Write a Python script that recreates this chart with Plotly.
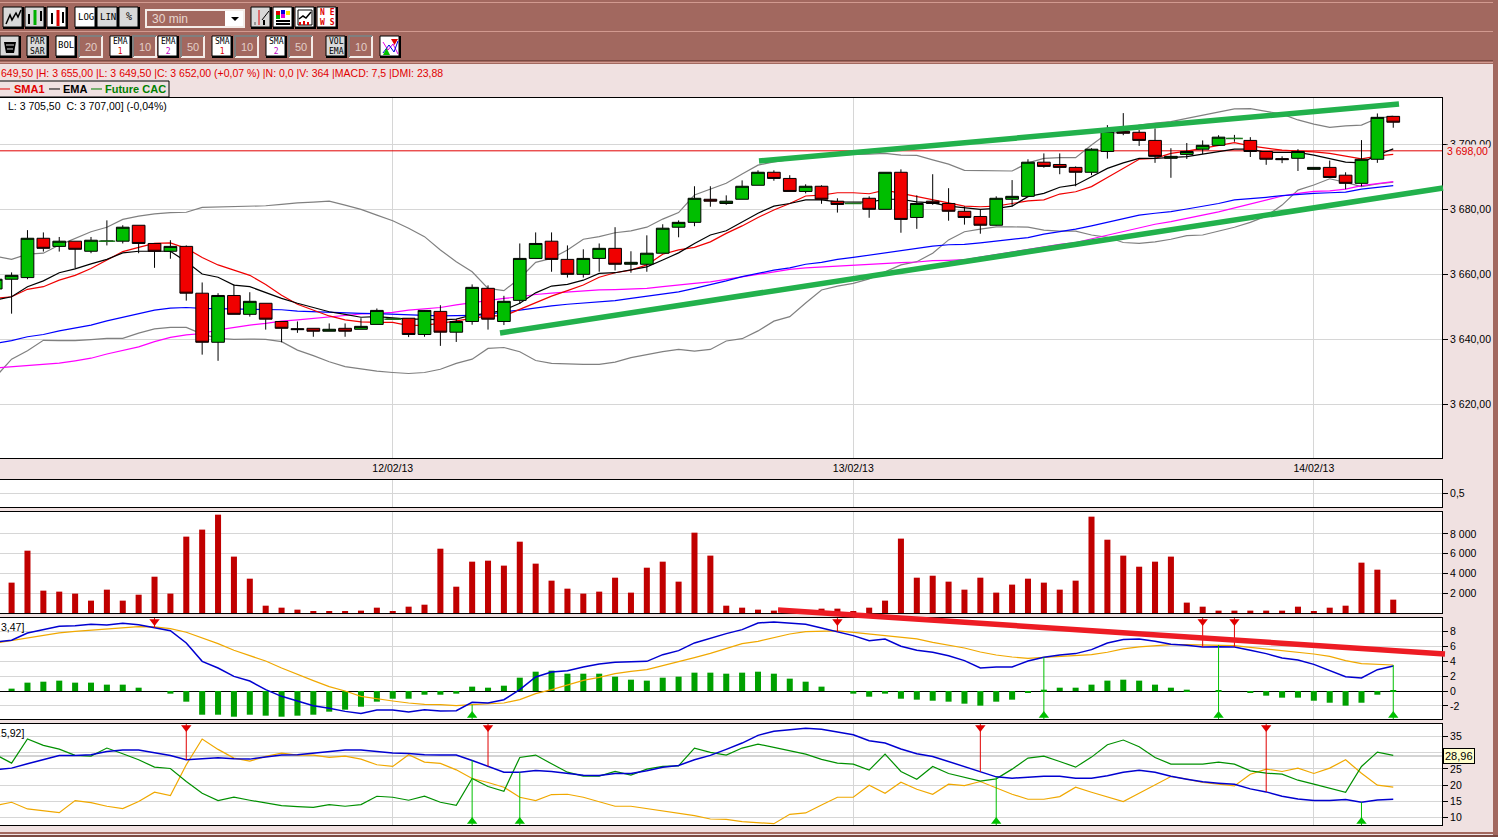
import plotly.graph_objects as go

W, H = 1498, 837

# one entry per 30 min bar, the first bar sits just off the left edge
OPEN = [3655.5, 3658.5, 3659.0, 3671.1, 3668.6, 3670.2, 3667.1, 3670.2, 3670.2, 3675.1, 3669.5, 3667.1, 3668.6, 3654.2, 3639.1, 3653.5, 3647.7, 3651.1, 3645.5, 3643.3, 3643.4, 3642.5, 3643.4, 3643.1, 3644.6, 3646.2, 3646.5, 3641.5, 3648.6, 3642.2, 3645.5, 3655.7, 3645.5, 3652.0, 3664.9, 3670.2, 3664.6, 3660.0, 3664.9, 3668.0, 3663.1, 3663.1, 3666.5, 3674.5, 3676.0, 3683.1, 3681.8, 3683.1, 3687.4, 3691.4, 3689.5, 3685.5, 3687.1, 3682.5, 3681.8, 3683.4, 3680.0, 3691.4, 3677.5, 3682.5, 3681.8, 3679.4, 3677.8, 3675.1, 3683.1, 3684.0, 3694.5, 3693.8, 3692.9, 3691.4, 3697.8, 3704.0, 3703.7, 3701.2, 3695.7, 3696.9, 3698.5, 3699.7, 3701.8, 3701.2, 3697.8, 3695.6, 3695.7, 3692.3, 3692.9, 3690.5, 3688.0, 3695.4, 3708.6]
HIGH = [3659.0, 3660.6, 3673.6, 3672.9, 3671.5, 3670.2, 3671.5, 3676.6, 3675.1, 3675.1, 3669.5, 3670.5, 3668.9, 3657.5, 3654.2, 3656.9, 3654.5, 3651.1, 3645.5, 3645.5, 3643.4, 3644.9, 3644.9, 3646.5, 3649.5, 3646.2, 3646.5, 3649.0, 3650.5, 3646.2, 3656.9, 3656.6, 3653.4, 3669.5, 3672.9, 3672.9, 3668.9, 3667.7, 3669.5, 3674.5, 3667.1, 3672.0, 3675.4, 3676.6, 3687.1, 3687.1, 3684.3, 3688.9, 3692.0, 3692.0, 3690.5, 3687.7, 3687.4, 3683.4, 3681.8, 3684.0, 3691.4, 3692.3, 3684.3, 3690.8, 3686.5, 3680.9, 3679.8, 3684.0, 3689.0, 3695.4, 3697.2, 3697.2, 3693.2, 3698.8, 3705.9, 3709.6, 3704.4, 3704.9, 3698.8, 3700.4, 3701.2, 3702.8, 3702.9, 3702.2, 3697.8, 3696.3, 3698.5, 3692.9, 3695.0, 3691.4, 3701.3, 3709.5, 3708.6]
LOW = [3655.0, 3647.9, 3658.5, 3667.0, 3667.0, 3661.8, 3666.5, 3668.9, 3669.5, 3666.5, 3662.0, 3664.8, 3651.9, 3635.3, 3633.4, 3647.7, 3647.0, 3643.0, 3639.1, 3642.0, 3640.8, 3642.5, 3640.8, 3643.1, 3644.6, 3646.2, 3640.7, 3640.8, 3638.0, 3639.2, 3644.5, 3643.0, 3644.4, 3650.9, 3664.9, 3660.8, 3659.0, 3659.0, 3660.8, 3661.2, 3660.5, 3660.8, 3666.5, 3671.4, 3674.8, 3680.8, 3681.4, 3683.1, 3687.4, 3688.8, 3685.5, 3684.9, 3681.7, 3679.0, 3681.8, 3677.4, 3680.0, 3672.8, 3674.0, 3681.4, 3676.5, 3675.3, 3672.5, 3675.0, 3680.9, 3684.0, 3692.8, 3690.8, 3687.1, 3690.5, 3695.6, 3702.8, 3699.5, 3694.3, 3689.7, 3695.5, 3697.0, 3699.7, 3700.8, 3696.1, 3693.7, 3694.2, 3691.8, 3692.3, 3689.8, 3686.2, 3687.1, 3694.3, 3705.1]
CLOSE = [3658.5, 3659.7, 3671.1, 3668.0, 3670.2, 3667.7, 3670.5, 3670.2, 3674.5, 3669.5, 3667.1, 3668.6, 3654.2, 3639.1, 3653.5, 3647.7, 3651.7, 3646.2, 3643.4, 3643.0, 3642.5, 3643.1, 3642.5, 3644.0, 3648.9, 3646.2, 3641.5, 3648.9, 3642.2, 3645.5, 3656.0, 3646.2, 3651.7, 3664.9, 3669.5, 3664.6, 3660.0, 3664.9, 3668.0, 3663.1, 3663.7, 3666.5, 3674.2, 3676.0, 3683.4, 3682.5, 3682.5, 3687.1, 3691.4, 3689.5, 3685.5, 3687.1, 3683.1, 3681.5, 3681.8, 3680.0, 3691.4, 3676.9, 3681.8, 3681.8, 3679.4, 3677.5, 3675.1, 3683.4, 3684.0, 3694.5, 3693.2, 3692.9, 3691.4, 3698.5, 3704.0, 3703.4, 3701.2, 3696.3, 3696.3, 3697.8, 3699.7, 3702.2, 3701.8, 3697.8, 3695.4, 3695.3, 3697.8, 3692.9, 3689.8, 3688.0, 3695.4, 3708.3, 3706.8]
BARS = list(range(-1, len(CLOSE) - 1))
DOJI_BARS = [6, 24, 53, 77]
LAST_PRICE = 3698

BOLL_UP = [3665.6, 3664.6, 3666.2, 3666.5, 3669.0, 3671.1, 3673.1, 3674.5, 3676.9, 3677.9, 3678.6, 3679.0, 3679.1, 3680.6, 3680.7, 3680.8, 3681.0, 3681.1, 3681.5, 3682.0, 3682.2, 3682.5, 3681.3, 3680.0, 3678.2, 3676.5, 3674.2, 3671.6, 3667.5, 3663.9, 3660.8, 3655.7, 3655.0, 3658.8, 3663.7, 3664.9, 3667.5, 3670.8, 3671.6, 3672.8, 3673.4, 3674.5, 3677.0, 3679.0, 3684.4, 3686.2, 3688.0, 3690.9, 3693.6, 3694.6, 3695.4, 3696.0, 3696.4, 3696.7, 3696.9, 3697.0, 3697.2, 3696.7, 3696.6, 3695.2, 3693.9, 3692.0, 3691.9, 3691.7, 3691.8, 3694.3, 3695.7, 3695.9, 3695.9, 3699.8, 3703.4, 3703.7, 3705.9, 3706.5, 3707.0, 3708.0, 3709.0, 3709.8, 3710.9, 3711.0, 3710.2, 3709.3, 3707.5, 3706.2, 3705.2, 3705.7, 3705.9, 3708.0, 3708.7]
BOLL_LOW = [3628.5, 3633.9, 3636.5, 3639.7, 3639.6, 3639.6, 3639.9, 3640.3, 3640.3, 3641.9, 3643.2, 3643.7, 3643.7, 3641.6, 3640.3, 3640.0, 3640.1, 3640.0, 3639.3, 3636.7, 3635.0, 3633.1, 3631.6, 3630.8, 3630.2, 3629.8, 3629.5, 3629.8, 3630.8, 3632.6, 3633.9, 3637.2, 3637.5, 3636.2, 3633.5, 3632.6, 3632.4, 3632.3, 3632.3, 3633.0, 3634.4, 3635.4, 3636.2, 3636.9, 3636.4, 3636.9, 3639.5, 3640.2, 3642.6, 3645.6, 3647.0, 3651.2, 3655.2, 3656.4, 3657.2, 3658.6, 3660.8, 3662.9, 3663.9, 3666.5, 3670.6, 3673.1, 3673.9, 3674.6, 3674.6, 3674.5, 3673.6, 3673.3, 3673.3, 3672.1, 3671.4, 3669.8, 3669.5, 3670.0, 3670.8, 3671.9, 3672.1, 3673.3, 3674.5, 3676.0, 3677.9, 3681.3, 3685.9, 3687.5, 3689.4, 3688.3, 3687.0, 3687.8, 3688.4]
EMA1 = [3652.1, 3653.1, 3656.2, 3658.0, 3660.5, 3661.7, 3663.2, 3664.6, 3666.6, 3667.1, 3667.1, 3667.1, 3663.9, 3660.1, 3659.1, 3656.7, 3656.2, 3654.3, 3652.6, 3651.1, 3649.7, 3648.5, 3647.7, 3646.8, 3647.0, 3646.5, 3646.2, 3646.2, 3646.0, 3646.2, 3647.5, 3648.0, 3649.0, 3651.1, 3654.3, 3656.4, 3656.9, 3658.2, 3660.3, 3660.5, 3661.3, 3662.3, 3664.4, 3666.6, 3669.5, 3672.1, 3673.4, 3676.0, 3678.8, 3681.0, 3681.8, 3682.9, 3682.9, 3682.3, 3682.3, 3682.2, 3683.1, 3683.1, 3682.3, 3682.0, 3681.0, 3680.5, 3680.0, 3680.3, 3681.0, 3683.9, 3684.9, 3686.8, 3687.5, 3690.0, 3692.6, 3694.3, 3695.7, 3695.7, 3695.9, 3696.2, 3697.0, 3697.7, 3698.5, 3698.5, 3697.5, 3697.5, 3697.5, 3696.7, 3695.7, 3694.5, 3694.3, 3696.7, 3698.6]
SMA1 = [3652.6, 3653.1, 3655.4, 3656.2, 3658.2, 3659.7, 3661.8, 3664.4, 3667.0, 3668.3, 3669.5, 3669.7, 3668.0, 3665.2, 3662.9, 3661.3, 3659.7, 3656.9, 3653.6, 3650.8, 3649.0, 3647.2, 3646.0, 3645.4, 3645.2, 3645.2, 3644.2, 3644.4, 3644.9, 3645.7, 3646.5, 3647.2, 3647.2, 3649.3, 3651.3, 3653.3, 3655.0, 3656.7, 3659.1, 3660.5, 3661.3, 3662.9, 3666.2, 3667.5, 3668.3, 3670.0, 3672.6, 3674.9, 3677.5, 3679.8, 3681.8, 3684.1, 3684.4, 3685.1, 3685.1, 3684.8, 3685.9, 3684.9, 3683.9, 3682.9, 3681.8, 3681.0, 3680.8, 3681.0, 3681.8, 3682.6, 3682.9, 3684.7, 3685.4, 3687.0, 3689.8, 3692.6, 3695.4, 3695.7, 3697.2, 3697.9, 3698.8, 3699.5, 3700.5, 3699.5, 3698.8, 3698.2, 3697.9, 3697.7, 3697.2, 3696.4, 3695.5, 3696.4, 3696.9]
EMA2 = [3638.8, 3639.6, 3640.8, 3641.5, 3642.6, 3643.4, 3644.4, 3645.7, 3646.8, 3648.0, 3649.0, 3649.6, 3649.8, 3649.5, 3649.4, 3649.3, 3649.3, 3649.3, 3649.1, 3648.7, 3648.5, 3648.2, 3648.2, 3648.0, 3647.9, 3647.8, 3647.7, 3647.4, 3647.2, 3647.2, 3647.4, 3647.6, 3648.5, 3649.0, 3649.7, 3650.3, 3650.8, 3651.2, 3651.6, 3651.9, 3652.6, 3653.3, 3653.9, 3654.6, 3655.7, 3656.8, 3658.0, 3659.3, 3660.4, 3661.3, 3662.0, 3663.1, 3663.7, 3664.6, 3665.2, 3665.9, 3666.6, 3667.5, 3668.0, 3668.7, 3669.1, 3669.2, 3669.7, 3670.2, 3670.8, 3671.3, 3672.4, 3673.1, 3673.9, 3674.9, 3676.0, 3677.2, 3678.2, 3678.8, 3679.3, 3680.1, 3680.9, 3681.8, 3682.9, 3683.2, 3683.7, 3684.2, 3684.6, 3684.9, 3685.1, 3685.3, 3686.2, 3686.8, 3687.3]
SMA2 = [3631.2, 3631.6, 3632.1, 3632.4, 3632.7, 3633.4, 3634.2, 3635.5, 3636.7, 3637.7, 3639.3, 3640.6, 3641.4, 3641.8, 3642.9, 3643.7, 3644.4, 3644.9, 3645.6, 3646.0, 3646.5, 3647.0, 3647.3, 3647.8, 3648.0, 3648.3, 3649.0, 3649.4, 3649.8, 3650.6, 3651.3, 3651.9, 3652.6, 3653.1, 3653.8, 3654.2, 3654.6, 3655.0, 3655.2, 3655.3, 3655.4, 3655.7, 3656.2, 3656.6, 3657.2, 3657.7, 3658.5, 3659.3, 3660.1, 3660.7, 3661.5, 3662.0, 3662.3, 3662.6, 3662.9, 3663.2, 3663.4, 3663.6, 3663.8, 3664.2, 3664.3, 3664.5, 3665.3, 3666.1, 3666.9, 3667.6, 3668.5, 3669.2, 3669.8, 3670.9, 3672.0, 3673.1, 3674.3, 3675.4, 3676.2, 3677.1, 3678.2, 3679.2, 3680.4, 3681.5, 3682.8, 3684.1, 3684.9, 3685.5, 3685.7, 3686.2, 3687.3, 3688.0, 3688.5]

# volume and histogram start at bar 0
VOLUME = [3070, 6300, 2260, 2160, 1960, 1250, 2360, 1250, 1850, 3670, 1960, 7720, 8430, 9940, 5700, 3470, 740, 540, 340, 140, 140, 140, 240, 540, 140, 640, 840, 6500, 2660, 5190, 5290, 4790, 7210, 4990, 3270, 2460, 1960, 2160, 3570, 2060, 4580, 5190, 3170, 8120, 5800, 740, 540, 340, 240, 200, 300, 440, 440, 140, 540, 1250, 7520, 3570, 3770, 3170, 2360, 3570, 2060, 2870, 3470, 3070, 2360, 3270, 9740, 7410, 5800, 4680, 5190, 5700, 1050, 640, 240, 240, 240, 240, 240, 640, 140, 540, 740, 5090, 4380, 1350]
MACD_HIST = [0.32, 1.13, 1.26, 1.40, 1.13, 1.13, 0.86, 0.86, 0.45, 0, -0.36, -1.44, -3.20, -3.20, -3.47, -3.20, -3.33, -3.47, -3.33, -3.20, -2.79, -2.52, -2.12, -1.44, -1.04, -1.04, -0.50, -0.50, -0.36, 0.59, 0.45, 0.72, 1.80, 2.61, 2.75, 2.34, 2.34, 2.34, 1.94, 1.53, 1.40, 1.80, 1.94, 2.48, 2.48, 2.34, 2.48, 2.61, 2.34, 1.67, 1.26, 0.59, 0, -0.36, -0.77, -0.36, -1.04, -1.17, -1.31, -1.44, -1.71, -1.98, -1.44, -1.17, -0.23, 0.18, 0.45, 0.45, 0.86, 1.40, 1.53, 1.40, 0.86, 0.45, 0.18, 0, 0.14, 0, -0.23, -0.63, -0.90, -0.90, -1.31, -1.58, -1.98, -1.58, -0.50, 0.14]
MACD = [6.62, 6.85, 7.84, 8.29, 8.74, 8.83, 9.01, 8.92, 9.14, 8.96, 8.51, 8.15, 6.49, 4.01, 3.11, 1.98, 1.35, 0.18, -0.72, -1.35, -1.98, -2.34, -2.75, -3.02, -2.57, -2.57, -2.84, -2.52, -2.70, -2.66, -1.53, -1.62, -1.17, 0.18, 1.89, 2.57, 2.75, 3.24, 3.65, 3.87, 3.92, 4.01, 4.91, 5.45, 6.49, 7.16, 7.75, 8.29, 9.19, 9.32, 9.19, 9.01, 8.51, 7.97, 7.48, 6.80, 7.03, 6.04, 5.50, 5.23, 4.77, 4.10, 3.11, 3.24, 3.24, 4.05, 4.55, 4.86, 5.05, 5.59, 6.49, 6.94, 7.03, 6.71, 6.31, 6.17, 5.95, 5.99, 5.95, 5.50, 5.05, 4.46, 4.19, 3.60, 2.79, 1.94, 1.76, 2.88, 3.38]
MACD_SIGNAL = [6.49, 6.85, 7.16, 7.52, 7.84, 8.06, 8.24, 8.42, 8.56, 8.69, 8.65, 8.42, 7.93, 7.16, 6.40, 5.50, 4.77, 4.05, 3.11, 2.21, 1.40, 0.59, 0, -0.72, -1.08, -1.35, -1.62, -1.80, -1.85, -1.98, -1.85, -1.76, -1.62, -1.17, -0.36, 0.18, 0.86, 1.44, 1.85, 2.34, 2.66, 2.88, 3.42, 3.92, 4.50, 5.09, 5.72, 6.40, 6.71, 7.25, 7.70, 8.02, 8.11, 8.11, 7.93, 7.70, 7.57, 7.30, 7.03, 6.58, 6.22, 5.81, 5.27, 4.86, 4.59, 4.41, 4.55, 4.68, 4.77, 4.91, 5.23, 5.68, 5.95, 6.13, 6.26, 6.26, 6.22, 6.22, 6.13, 5.90, 5.68, 5.54, 5.23, 5.00, 4.68, 4.10, 3.69, 3.56, 3.51]
MACD_SELL = [9, 52, 75, 77]
MACD_BUY = [29, 65, 76, 87]

DMI_ADX = [24.71, 25.23, 26.56, 27.80, 29.14, 29.14, 29.34, 30.37, 30.78, 30.78, 29.86, 29.14, 27.80, 28.0, 28.42, 28.11, 28.0, 28.62, 29.24, 29.34, 29.86, 30.47, 30.78, 30.78, 30.37, 29.86, 29.75, 29.34, 29.24, 29.24, 27.59, 25.74, 23.99, 23.99, 24.51, 24.20, 23.58, 23.07, 22.96, 23.58, 23.58, 24.40, 25.53, 26.05, 27.80, 29.14, 30.99, 32.94, 35.31, 36.54, 37.06, 37.47, 37.16, 36.34, 35.51, 33.66, 32.94, 31.09, 29.65, 28.83, 27.28, 25.64, 24.09, 22.55, 22.14, 22.45, 22.76, 22.76, 22.14, 22.14, 22.86, 23.99, 24.61, 23.99, 22.76, 21.83, 21.01, 20.60, 20.29, 18.85, 17.92, 16.58, 15.76, 15.25, 15.25, 15.56, 14.73, 15.45, 15.66]
DMI_PLUS = [29.34, 26.77, 34.18, 32.22, 31.09, 29.14, 28.93, 31.40, 29.65, 27.80, 25.53, 25.12, 21.11, 17.51, 15.25, 16.28, 15.35, 14.42, 13.70, 13.40, 13.19, 14.01, 13.50, 14.01, 16.58, 16.28, 15.35, 16.58, 14.73, 13.81, 22.04, 19.57, 18.13, 28.52, 29.24, 26.56, 23.99, 22.76, 22.76, 24.20, 23.07, 24.92, 25.74, 25.95, 31.40, 30.06, 29.24, 31.40, 32.63, 31.60, 30.58, 29.55, 27.90, 26.77, 26.46, 24.61, 29.55, 24.20, 21.83, 25.74, 23.58, 22.45, 21.21, 21.93, 24.92, 28.31, 28.93, 27.28, 25.53, 28.62, 32.43, 33.87, 31.81, 28.52, 26.46, 26.46, 26.46, 27.08, 26.46, 24.40, 23.68, 23.37, 21.52, 20.29, 19.05, 17.82, 25.74, 30.16, 29.14]
DMI_MINUS = [13.70, 14.73, 12.67, 12.06, 11.54, 15.25, 14.63, 13.50, 12.78, 14.94, 17.82, 16.79, 26.26, 34.18, 30.99, 28.31, 27.39, 28.83, 29.86, 29.24, 29.24, 28.52, 28.93, 28.0, 26.26, 25.74, 29.34, 27.08, 26.67, 24.71, 22.04, 20.80, 19.36, 16.28, 15.25, 17.10, 17.20, 16.28, 14.94, 13.50, 13.50, 12.78, 11.85, 11.23, 10.62, 9.59, 9.49, 8.77, 8.46, 8.15, 11.03, 11.44, 13.91, 16.28, 16.28, 19.98, 17.51, 20.91, 18.74, 17.20, 20.29, 19.88, 21.11, 19.05, 17.20, 15.66, 15.66, 16.48, 19.36, 17.82, 16.48, 14.94, 17.51, 20.08, 22.65, 21.83, 20.80, 20.29, 19.77, 23.37, 24.92, 24.20, 25.23, 23.58, 25.23, 27.80, 23.68, 19.98, 19.36]
DMI_SELL = [11, 30, 61, 79]
DMI_BUY = [29, 32, 62, 85]
DMI_LAST = 28.96

DATE_BARS = [24, 53, 82]
DATE_LABELS = ["12/02/13", "13/02/13", "14/02/13"]
PRICE_TICKS = [3620, 3640, 3660, 3680, 3700]
PRICE_LABELS = ["3 620,00", "3 640,00", "3 660,00", "3 680,00", "3 700,00"]
VOLUME_TICKS = [2000, 4000, 6000, 8000]
VOLUME_LABELS = ["2 000", "4 000", "6 000", "8 000"]
MACD_TICKS = [-2, 0, 2, 4, 6, 8]
DMI_TICKS = [10, 15, 20, 25, 30, 35]
# the 30 sits behind the last value flag
DMI_LABELS = ["10", "15", "20", "25", "", "35"]

assert all(len(s) == len(BARS) for s in [OPEN, HIGH, LOW, CLOSE, BOLL_UP, BOLL_LOW, EMA1, SMA1, EMA2, SMA2, MACD, MACD_SIGNAL, DMI_ADX, DMI_PLUS, DMI_MINUS])
assert len(VOLUME) == len(BARS) - 1 and len(MACD_HIST) == len(BARS) - 1

BROWN = "#A2685F"
PINK = "#F0E1E1"
GRID = "#D6D6D6"
FONT = "Liberation Sans"
MONO = "DejaVu Sans Mono"
X_RANGE = [-0.73, 90.07]
PRICE_RANGE = [3603.5, 3714.25]
MACD_RANGE = [-3.78, 9.86]
DMI_RANGE = [7.74, 38.8]


def px(x):
    return x / W


def py(y):
    return 1 - y / H


shapes = []
notes = []


def rect(x0, y0, x1, y1, fill, line=None, width=1):
    shapes.append(dict(type="rect", xref="paper", yref="paper", x0=px(x0), x1=px(x1), y0=py(y0), y1=py(y1),
                       fillcolor=fill, line=dict(color=line or fill, width=width if line else 0)))


def poly(points, color="black", width=1):
    path = "M " + " L ".join(f"{px(x):.5f},{py(y):.5f}" for x, y in points)
    shapes.append(dict(type="path", xref="paper", yref="paper", path=path, line=dict(color=color, width=width)))


def solid(points, color):
    path = "M " + " L ".join(f"{px(x):.5f},{py(y):.5f}" for x, y in points) + " Z"
    shapes.append(dict(type="path", xref="paper", yref="paper", path=path, fillcolor=color, line=dict(color=color, width=0)))


def label(x, y, text, size=10.5, color="black", family=FONT, anchor="left", **kw):
    notes.append(dict(xref="paper", yref="paper", x=px(x), y=py(y), text=text, showarrow=False, xanchor=anchor,
                      yanchor="middle", align="center", font=dict(size=size, color=color, family=family), **kw))


def button(x0, y0, x1, y1, fill="#D9D9D9", text=None, size=9):
    rect(x0, y0, x1 + 1, y1 + 1, "black")
    rect(x0, y0, x1 - 1, y1 - 1, fill, "black")
    if text:
        # two line captions need a tighter font to stay inside the button
        two_lines = "<br>" in text
        label((x0 + x1) / 2, (y0 + y1) / 2 - (0 if two_lines else 1), text, size=8 if two_lines else size, family=MONO, anchor="center")


def number_box(x0, x1, text):
    rect(x0, 36, x1, 57, BROWN)
    poly([(x0, 57), (x1, 57), (x1, 36)], "#F4ECE8", 2)
    poly([(x0, 57), (x0, 36), (x1, 36)], "#7F7F7F", 2)
    label(x0 + 4, 47, text, size=11, color="#E2CEC8")


# window chrome
rect(0, 0, W, 64, BROWN)
rect(0, 2, W, 3, "#D29A90")
rect(0, 31, W, 32, "#D29A90")
rect(0, 60, W, 61, "#7A4A42")
rect(0, 62, W, 63, "#D29A90")
rect(1493, 0, W, H, BROWN)
rect(0, 832, W, 834, BROWN)
rect(0, 835, W, H, "#7A4A42")

button(3, 7, 23, 28)
poly([(6, 24), (10, 15), (12, 20), (16, 13), (18, 17), (21, 10)], width=1.5)
button(25, 7, 45, 28)
poly([(29, 14), (29, 24)], width=2)
poly([(35, 10), (35, 25)], "#00B000", 3)
poly([(41, 11), (41, 21)], width=2)
button(47, 7, 67, 28, "white")
poly([(52, 13), (52, 24)], width=2)
poly([(58, 10), (58, 26)], "#E00000", 3)
poly([(63, 12), (63, 23)], width=2)
button(75, 7, 96, 28, "white", "LOG")
button(97, 7, 118, 28, text="LIN")
button(119, 7, 139, 28, text="%", size=10)

rect(146, 10, 244, 27, BROWN, "#F4ECE8", 2)
rect(225, 11, 243, 26, "white")
solid([(231, 17), (239, 17), (235, 21)], "black")
label(150, 19, "30 min", color="#E8D8D0", size=12)

button(251, 7, 271, 28)
poly([(259, 10), (259, 25)], "#E00000", 1)
poly([(262, 20), (269, 11)])
poly([(255, 25), (255, 22)], "#999999", 2)
poly([(264, 25), (264, 20)], width=2)
button(273, 7, 293, 28, "white")
rect(276, 11, 280, 15, "#E00000")
rect(281, 10, 285, 14, "#0000E0")
rect(286, 11, 290, 15, "#FFE000")
rect(276, 15, 280, 19, "#00B000")
rect(281, 14, 285, 18, "#E000E0")
poly([(276, 21), (290, 21)], width=2)
poly([(276, 24), (290, 24)], width=2)
button(295, 7, 315, 28, "white")
rect(298, 10, 312, 25, "white", "black")
poly([(299, 19), (303, 16), (306, 18), (311, 12)], width=1.5)
poly([(300, 25), (300, 22)], "#E00000", 2)
poly([(304, 25), (304, 21)], "#E00000", 2)
poly([(308, 25), (308, 22)], "#E00000", 2)
button(317, 7, 337, 28, "white")
label(327, 17.5, "<b>N E<br>W S</b>", size=8, color="#E00000", family=MONO, anchor="center")

button(0, 36, 20, 57)
solid([(4, 42), (16, 42), (14, 53), (6, 53)], "black")
poly([(6, 45), (14, 45)], "#D9D9D9")
poly([(7, 49), (13, 49)], "#D9D9D9")
button(27, 36, 48, 57, text="PAR<br>SAR")
button(56, 36, 76, 57, "white", "BOL")
number_box(79, 102, "20")
button(110, 36, 131, 57, "white", 'EMA<br><span style="color:#E00000">1</span>')
number_box(133, 156, "10")
button(158, 36, 178, 57, "white", 'EMA<br><span style="color:#C000C0">2</span>')
number_box(181, 204, "50")
button(212, 36, 232, 57, "white", 'SMA<br><span style="color:#E00000">1</span>')
number_box(235, 258, "10")
button(266, 36, 286, 57, "white", 'SMA<br><span style="color:#C000C0">2</span>')
number_box(289, 312, "50")
button(326, 36, 346, 57, text="VOL<br>EMA")
number_box(349, 372, "10")
button(380, 36, 400, 57, "white")
poly([(383, 42), (388, 50), (393, 44), (398, 54)], "#E000E0")
poly([(383, 53), (389, 45), (394, 52), (398, 41)], "#0000E0")
solid([(391, 39), (398, 39), (394.5, 45)], "#E00000")
solid([(383, 55), (390, 55), (386.5, 48)], "#00C000")

label(-1, 73, "649,50 |H: 3 655,00 |L: 3 649,50 |C: 3 652,00 (+0,07 %) |N: 0,0 |V: 364 |MACD: 7,5 |DMI: 23,88", color="#E00000")
rect(-2, 81, 169, 97, PINK, "black")
poly([(0, 89), (10, 89)], "#E00000")
label(12, 89, "<b>SMA1</b>", size=11, color="#E00000")
poly([(49, 89), (60, 89)])
label(61, 89, "<b>EMA</b>", size=11)
poly([(91, 89), (102, 89)], "#008000")
label(103, 89, "<b>Future CAC</b>", size=11, color="#008000")
label(6, 106, "L: 3 705,50  C: 3 707,00] (-0,04%)")
label(-1, 627, "3,47]")
label(-1, 733, "5,92]")

# hand drawn trend lines
poly([(759, 161), (1399, 104)], "#22B14C", 5.5)
poly([(500, 333), (1443, 188)], "#22B14C", 5.5)
poly([(778, 610), (1445, 654)], "#ED1C24", 5.5)


def line_trace(y, color, xaxis="x", yaxis="y", width=1.2):
    return go.Scatter(x=BARS, y=y, mode="lines", xaxis=xaxis, yaxis=yaxis, line=dict(color=color, width=width), hoverinfo="skip")


def signals(bars, series, edge, color, symbol, inset, xaxis, yaxis):
    xs, ys = [], []
    for b in bars:
        xs += [b, b, None]
        ys += [series[b + 1], edge, None]
    stems = go.Scatter(x=xs, y=ys, mode="lines", xaxis=xaxis, yaxis=yaxis, line=dict(color=color, width=1), hoverinfo="skip")
    heads = go.Scatter(x=bars, y=[edge + inset] * len(bars), mode="markers", xaxis=xaxis, yaxis=yaxis,
                       marker=dict(symbol=symbol, size=9, color=color), hoverinfo="skip")
    return [stems, heads]


fig = go.Figure()

# price panel, indicators first so the candles on the overlay axis cover them
fig.add_trace(go.Scatter(x=X_RANGE, y=[LAST_PRICE, LAST_PRICE], mode="lines", line=dict(color="#E00000", width=1), hoverinfo="skip"))
fig.add_trace(line_trace(BOLL_UP, "#808080"))
fig.add_trace(line_trace(BOLL_LOW, "#808080"))
fig.add_trace(line_trace(SMA2, "#FF00FF"))
fig.add_trace(line_trace(EMA2, "#0000FF"))
fig.add_trace(line_trace(SMA1, "#F00000"))
fig.add_trace(line_trace(EMA1, "#000000"))
fig.add_trace(go.Candlestick(
    x=BARS, open=OPEN, high=HIGH, low=LOW, close=CLOSE, xaxis="x", yaxis="y6",
    increasing=dict(fillcolor="#00BE00", line=dict(color="black", width=1)),
    decreasing=dict(fillcolor="#F00000", line=dict(color="black", width=1)),
    hoverinfo="skip",
))
fig.add_trace(go.Scatter(
    x=DOJI_BARS, y=[CLOSE[b + 1] for b in DOJI_BARS], mode="markers", xaxis="x", yaxis="y6",
    marker=dict(symbol="line-ew", size=12, line=dict(color="#1E7B1E", width=1.5)), hoverinfo="skip",
))

# empty oscillator strip, kept so the panel is drawn
fig.add_trace(go.Scatter(x=[], y=[], xaxis="x2", yaxis="y2", hoverinfo="skip"))

# volume
fig.add_trace(go.Bar(x=BARS[1:], y=VOLUME, xaxis="x3", yaxis="y3", width=0.38, marker=dict(color="#C00000", line=dict(width=0)), hoverinfo="skip"))

# MACD
fig.add_trace(go.Bar(x=BARS[1:], y=MACD_HIST, xaxis="x4", yaxis="y4", width=0.38, marker=dict(color="#00A000", line=dict(width=0)), hoverinfo="skip"))
fig.add_trace(line_trace(MACD_SIGNAL, "#F0A800", "x4", "y4"))
fig.add_trace(line_trace(MACD, "#0000D0", "x4", "y4", 1.5))
fig.add_traces(signals(MACD_SELL, MACD, MACD_RANGE[1], "#E00000", "triangle-down", -0.47, "x4", "y4"))
fig.add_traces(signals(MACD_BUY, MACD_SIGNAL, MACD_RANGE[0], "#00C000", "triangle-up", 0.47, "x4", "y4"))

# DMI
fig.add_trace(go.Scatter(x=X_RANGE, y=[DMI_LAST, DMI_LAST], mode="lines", xaxis="x5", yaxis="y5", line=dict(color="#A8A8A8", width=1), hoverinfo="skip"))
fig.add_trace(line_trace(DMI_MINUS, "#F0A800", "x5", "y5"))
fig.add_trace(line_trace(DMI_PLUS, "#009000", "x5", "y5"))
fig.add_trace(line_trace(DMI_ADX, "#0000D0", "x5", "y5", 1.5))
fig.add_traces(signals(DMI_SELL, DMI_ADX, DMI_RANGE[1], "#E00000", "triangle-down", -1.08, "x5", "y5"))
fig.add_traces(signals(DMI_BUY, DMI_ADX, DMI_RANGE[0], "#00C000", "triangle-up", 1.08, "x5", "y5"))

# last value flags sit over the axis labels
notes.append(dict(xref="paper", yref="y", x=px(1446), y=LAST_PRICE, text="3 698,00", showarrow=False, xanchor="left",
                  font=dict(size=10.5, color="#E00000", family=FONT), bgcolor=PINK, borderpad=0))
notes.append(dict(xref="paper", yref="y5", x=px(1443), y=DMI_LAST, text="28,96", showarrow=False, xanchor="left",
                  font=dict(size=11, color="black", family=FONT), bgcolor="#FFFFCC", bordercolor="black", borderwidth=1, borderpad=1))


def panel_x(anchor, labels=False):
    return dict(domain=[0, px(1442)], range=X_RANGE, anchor=anchor, tickmode="array", tickvals=DATE_BARS,
                ticktext=DATE_LABELS, showticklabels=labels, ticks="", showgrid=True, gridcolor=GRID, gridwidth=1,
                zeroline=False, showline=True, mirror=True, linecolor="black", linewidth=1,
                tickfont=dict(size=10.5, family=FONT, color="black"), rangeslider=dict(visible=False))


def panel_y(anchor, top, bottom, rng, ticks, labels=None):
    return dict(domain=[py(bottom), py(top)], range=rng, anchor=anchor, side="right", tickmode="array", tickvals=ticks,
                ticktext=labels or [str(t) for t in ticks], ticks="outside", ticklen=5, tickcolor="black", showgrid=True,
                gridcolor=GRID, gridwidth=1, zeroline=False, showline=True, linecolor="black", linewidth=1,
                tickfont=dict(size=10.5, family=FONT, color="black"))


fig.update_layout(
    width=W,
    height=H,
    margin=dict(l=0, r=0, t=0, b=0),
    paper_bgcolor=PINK,
    plot_bgcolor="white",
    showlegend=False,
    hovermode=False,
    boxgap=0.2,
    boxgroupgap=0,
    barmode="overlay",
    xaxis=panel_x("y", True),
    yaxis=panel_y("x", 98, 458, PRICE_RANGE, PRICE_TICKS, PRICE_LABELS),
    xaxis2=panel_x("y2"),
    yaxis2=panel_y("x2", 480, 507, [0, 1], [0.5], ["0,5"]),
    xaxis3=panel_x("y3"),
    yaxis3=panel_y("x3", 512, 613, [0, 10210], VOLUME_TICKS, VOLUME_LABELS),
    xaxis4=panel_x("y4"),
    yaxis4={**panel_y("x4", 618, 719, MACD_RANGE, MACD_TICKS), "zeroline": True, "zerolinecolor": "black", "zerolinewidth": 1},
    xaxis5=panel_x("y5"),
    yaxis5=panel_y("x5", 724, 825, DMI_RANGE, DMI_TICKS, DMI_LABELS),
    yaxis6=dict(overlaying="y", range=PRICE_RANGE, anchor="x", side="right", visible=False, showgrid=False),
    shapes=shapes,
    annotations=notes,
)

fig.write_html("out.html", config={"displayModeBar": False},
               post_script="document.body.style.margin='0';document.body.style.overflow='hidden';")
